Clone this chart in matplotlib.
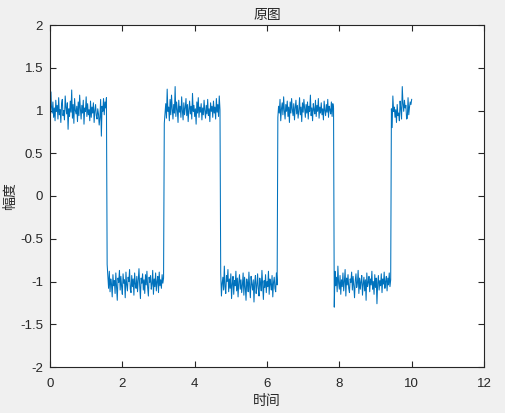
import numpy as np
import matplotlib
matplotlib.use("Agg")
import matplotlib.pyplot as plt

plt.rcParams['font.family'] = ['Liberation Sans', 'Noto Sans CJK SC', 'DejaVu Sans']
plt.rcParams['axes.unicode_minus'] = False

# ---- data (noisy square wave, sample step 0.02) ----
seg_high_1 = [0.80, 1.22, 1.05, 0.97, 1.10, 0.92, 1.03, 0.88, 1.12, 0.99,
              1.06, 0.90, 1.15, 0.95, 1.01, 0.86, 1.08, 1.13, 0.94, 1.00,
              0.89, 1.17, 1.04, 0.96, 1.09, 0.78, 1.02, 0.93, 1.11, 0.98,
              1.24, 0.91, 1.07, 0.85, 1.14, 1.00, 0.96, 1.05, 0.87, 1.10,
              0.94, 1.18, 1.02, 0.90, 1.06, 0.97, 1.12, 0.84, 1.03, 0.99,
              1.16, 0.93, 1.08, 0.95, 1.01, 0.88, 1.11, 0.92, 1.04, 0.97,
              1.09, 0.86, 1.00, 1.07, 0.94, 0.90, 1.02, 0.96, 0.83, 0.92,
              1.13, 0.70, 1.05, 0.99, 1.14, 0.95, 1.10, 1.03, 1.15]
seg_low_1 = [-0.80, -0.95, -1.08, -0.88, -1.12, -0.97, -1.03, -1.18, -0.92, -1.05,
             -0.99, -1.14, -0.90, -1.07, -1.22, -0.96, -1.01, -0.87, -1.10, -0.94,
             -1.06, -1.15, -0.91, -1.02, -0.98, -1.19, -0.89, -1.04, -1.11, -0.95,
             -1.00, -0.86, -1.09, -1.13, -0.93, -1.06, -0.97, -1.16, -0.90, -1.03,
             -1.08, -0.94, -1.12, -0.99, -0.85, -1.05, -1.20, -0.96, -1.02, -0.91,
             -1.10, -0.98, -1.14, -0.92, -1.04, -0.88, -1.07, -1.17, -0.95, -1.01,
             -0.93, -1.09, -1.03, -0.87, -1.15, -0.97, -1.06, -0.90, -1.11, -1.00,
             -0.94, -1.13, -0.89, -1.05, -0.98, -1.08, -0.92, -1.02, -0.96]
seg_high_2 = [0.85, 0.96, 1.08, 0.91, 1.25, 0.99, 1.04, 0.88, 1.13, 0.95,
              1.18, 1.02, 0.90, 1.07, 0.97, 1.28, 0.93, 1.10, 1.01, 0.86,
              1.12, 0.98, 1.05, 0.92, 1.16, 1.00, 0.89, 1.09, 0.95, 1.03,
              1.14, 0.94, 1.07, 0.87, 1.01, 1.11, 0.96, 1.05, 0.90, 1.20,
              0.99, 1.06, 0.93, 1.02, 0.84, 1.10, 0.97, 1.15, 0.92, 1.04,
              0.98, 1.08, 0.89, 1.03, 0.95, 1.12, 1.00, 0.91, 1.06, 0.96,
              1.13, 0.94, 1.02, 0.87, 1.09, 0.99, 1.05, 0.92, 1.11, 0.97,
              1.04, 0.90, 1.14, 0.98, 1.07, 0.93, 1.17, 1.01]
seg_low_2 = [-0.90, -1.17, -1.02, -0.95, -1.10, -0.82, -1.06, -1.14, -0.93, -1.00,
             -0.86, -1.12, -0.97, -1.08, -0.91, -1.20, -1.03, -0.94, -1.15, -0.99,
             -1.05, -0.88, -1.11, -0.96, -1.18, -1.01, -0.92, -1.09, -0.98, -1.13,
             -1.04, -0.90, -1.16, -0.95, -1.07, -1.22, -0.97, -1.02, -1.12, -0.89,
             -1.06, -1.19, -0.94, -1.03, -1.10, -0.98, -1.24, -1.01, -0.93, -1.14,
             -1.05, -0.91, -1.09, -1.17, -0.96, -1.02, -1.11, -0.87, -1.04, -1.21,
             -0.99, -1.07, -0.92, -1.13, -1.00, -1.06, -0.88, -1.15, -0.97, -1.03,
             -1.10, -0.93, -1.18, -1.01, -0.95, -1.08, -1.12, -0.90, -1.04]
seg_high_3 = [0.92, 1.05, 0.97, 1.13, 0.88, 1.02, 1.09, 0.95, 1.16, 1.00,
              0.90, 1.07, 0.99, 1.11, 0.93, 1.04, 0.86, 1.10, 0.97, 1.14,
              1.01, 0.94, 1.08, 0.89, 1.03, 1.12, 0.96, 1.06, 0.91, 1.00,
              1.15, 0.95, 1.04, 0.87, 1.09, 0.98, 1.13, 1.02, 0.92, 1.07,
              0.97, 1.10, 0.90, 1.05, 0.99, 1.18, 0.94, 1.03, 0.88, 1.08,
              1.01, 0.96, 1.12, 0.93, 1.06, 0.99, 1.14, 0.91, 1.04, 0.97,
              1.09, 0.95, 1.02, 0.89, 1.11, 1.00, 0.94, 1.07, 0.98, 1.13,
              0.92, 1.05, 1.01, 0.96, 1.10, 0.93, 1.08, 1.03]
seg_low_3 = [-1.30, -0.88, -1.05, -0.95, -1.12, -0.82, -1.02, -1.09, -0.93, -1.15,
             -0.98, -1.06, -0.90, -1.11, -1.00, -0.86, -1.17, -0.96, -1.04, -0.92,
             -1.08, -1.13, -0.97, -1.01, -0.89, -1.10, -0.94, -1.05, -1.19, -0.99,
             -0.91, -1.07, -1.02, -0.87, -1.14, -0.96, -1.09, -1.00, -0.93, -1.16,
             -1.03, -0.95, -1.11, -0.98, -1.22, -0.90, -1.06, -1.01, -0.94, -1.12,
             -0.97, -1.04, -0.88, -1.09, -1.00, -1.15, -0.92, -1.07, -0.96, -1.26,
             -1.02, -0.93, -1.10, -0.99, -1.05, -0.91, -1.13, -0.97, -1.03, -0.89,
             -1.08, -1.00, -0.94, -1.11, -0.96, -1.04, -0.90, -1.06, -0.98]
seg_high_4 = [1.02, 0.80, 1.17, 0.99, 1.04, 0.92, 1.01, 0.86, 1.07, 0.94,
              0.97, 0.88, 1.11, 1.02, 0.90, 1.28, 1.08, 0.99, 1.12, 1.03,
              1.06, 0.90, 0.91, 1.15, 0.95, 1.04, 1.10, 1.07, 1.13]

t_start, t_stop = 0.0, 10.0
x_ticks = [0, 2, 4, 6, 8, 10, 12]
y_ticks = [-2, -1.5, -1, -0.5, 0, 0.5, 1, 1.5, 2]
title_text = "原图"
x_label = "时间"
y_label = "幅度"

amplitude = np.concatenate([seg_high_1, seg_low_1, seg_high_2, seg_low_2,
                            seg_high_3, seg_low_3, seg_high_4])
t = np.linspace(t_start, t_stop, len(amplitude))

# ---- figure ----
W, H = 506, 413
fig = plt.figure(figsize=(W / 100, H / 100), dpi=100, facecolor='#f0f0f0')
ax = fig.add_axes([50 / W, (H - 367) / H, 434 / W, 342 / H])
ax.set_facecolor('white')
ax.plot(t, amplitude, color='#0072BD', linewidth=0.75)

ax.set_xlim(0, 12)
ax.set_ylim(-2, 2)
ax.set_xticks(x_ticks)
ax.set_yticks(y_ticks)
ax.set_xticklabels([f"{v:g}" for v in x_ticks])
ax.set_yticklabels([f"{v:g}" for v in y_ticks])

axis_col = '#262626'
for s in ax.spines.values():
    s.set_color(axis_col)
    s.set_linewidth(0.8)
ax.tick_params(direction='in', length=4, width=0.8, colors=axis_col,
               labelsize=9.5, top=True, right=True, pad=5)
ax.tick_params(axis='x', pad=8)

cjk = ['Noto Sans CJK SC', 'DejaVu Sans']
ax.set_title(title_text, fontsize=10, color=axis_col, pad=4, family=cjk)
ax.set_xlabel(x_label, fontsize=10, color=axis_col, labelpad=3, family=cjk)
ax.set_ylabel(y_label, fontsize=10, color=axis_col, labelpad=2, family=cjk)

fig.savefig("out.png", dpi=100, facecolor=fig.get_facecolor())
